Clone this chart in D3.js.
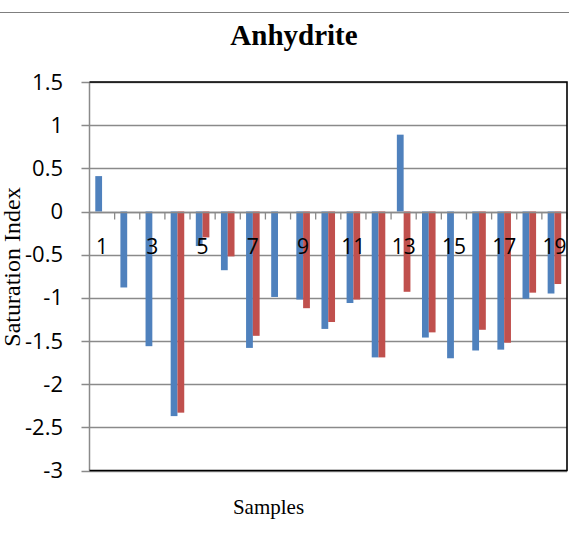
<!DOCTYPE html>
<html>
<head>
<meta charset="utf-8">
<script src="https://cdn.jsdelivr.net/npm/d3@7"></script>
<style>
  body { margin: 0; background: #fff; }
  svg { display: block; }
</style>
</head>
<body>
<div class="chart"></div>
<script>
// chart size matches the window
var width = 569;
var height = 543;

// data
var samples = [1, 2, 3, 4, 5, 6, 7, 8, 9, 10, 11, 12, 13, 14, 15, 16, 17, 18, 19];
var seriesNames = ["s1", "s2"];
var blueValues = [0.41, -0.88, -1.56, -2.37, -0.40, -0.68, -1.58, -0.99, -1.02, -1.36, -1.06, -1.69, 0.89, -1.46, -1.70, -1.61, -1.60, -1.01, -0.95];
var redValues = [null, null, null, -2.33, -0.30, -0.52, -1.44, null, -1.12, -1.28, -1.02, -1.69, -0.93, -1.40, null, -1.37, -1.52, -0.94, -0.84];
var yTicks = [1.5, 1, 0.5, 0, -0.5, -1, -1.5, -2, -2.5, -3];
var xLabels = ["1", "", "3", "", "5", "", "7", "", "9", "", "11", "", "13", "", "15", "", "17", "", "19"];
var colors = { s1: "#4f81bd", s2: "#c0504d" };

var plot = { left: 89.5, right: 567, top: 82, bottom: 470.5 };

var svg = d3.select(".chart").append("svg")
  .attr("width", width)
  .attr("height", height);

// thin grey rule across the top
svg.append("line")
  .attr("x1", 0).attr("x2", width)
  .attr("y1", 12.5).attr("y2", 12.5)
  .attr("stroke", "#7f7f7f").attr("stroke-width", 1);

var x0 = d3.scaleBand()
  .domain(samples)
  .range([plot.left, plot.right])
  .paddingInner(0.46)
  .paddingOuter(0.23);

var x1 = d3.scaleBand()
  .domain(seriesNames)
  .range([0, x0.bandwidth()]);

var y = d3.scaleLinear()
  .domain([-3, 1.5])
  .range([plot.bottom, plot.top]);

// gridlines + outward ticks
svg.append("g").selectAll("line")
  .data(yTicks)
  .enter().append("line")
  .attr("x1", plot.left - 8)
  .attr("x2", plot.right)
  .attr("y1", function(d){ return Math.round(y(d)) + 0.5; })
  .attr("y2", function(d){ return Math.round(y(d)) + 0.5; })
  .attr("stroke", "#8a8a8a")
  .attr("stroke-width", 1.3);

// y axis labels
var yAxis = d3.axisLeft(y)
  .tickValues(yTicks)
  .tickSize(0)
  .tickPadding(plot.left - 63)
  .tickFormat(function(d){ return String(d); });

svg.append("g")
  .attr("transform", "translate(" + plot.left + ",0)")
  .call(yAxis)
  .call(function(g){ g.select(".domain").remove(); })
  .selectAll("text")
  .attr("font-family", "'Open Sans', sans-serif")
  .attr("font-size", 22)
  .attr("fill", "#000");

// bars
var rows = samples.map(function(s, i){
  return { sample: s, s1: blueValues[i], s2: redValues[i] };
});

var groups = svg.append("g").selectAll("g")
  .data(rows)
  .enter().append("g")
  .attr("transform", function(d){ return "translate(" + x0(d.sample) + ",0)"; });

groups.selectAll("rect")
  .data(function(d){
    return seriesNames.map(function(k){ return { key: k, value: d[k] }; })
      .filter(function(e){ return e.value != null; });
  })
  .enter().append("rect")
  .attr("x", function(d){ return x1(d.key); })
  .attr("width", x1.bandwidth())
  .attr("y", function(d){ return Math.min(y(d.value), y(0)); })
  .attr("height", function(d){ return Math.abs(y(d.value) - y(0)); })
  .attr("fill", function(d){ return colors[d.key]; });

// category axis at zero
var zeroY = Math.round(y(0)) + 0.5;
svg.append("line")
  .attr("x1", plot.left).attr("x2", plot.right)
  .attr("y1", zeroY).attr("y2", zeroY)
  .attr("stroke", "#8a8a8a").attr("stroke-width", 1.5);

var step = x0.step();
var boundaries = d3.range(samples.length + 1).map(function(i){ return plot.left + i * step; });
svg.append("g").selectAll("line")
  .data(boundaries)
  .enter().append("line")
  .attr("x1", function(d){ return d; })
  .attr("x2", function(d){ return d; })
  .attr("y1", zeroY)
  .attr("y2", zeroY + 7)
  .attr("stroke", "#8a8a8a").attr("stroke-width", 1.3);

svg.append("g").selectAll("text")
  .data(samples)
  .enter().append("text")
  .attr("x", function(d){ return x0(d) + x0.bandwidth() / 2; })
  .attr("y", 254)
  .attr("text-anchor", "middle")
  .attr("font-family", "'Open Sans', sans-serif")
  .attr("font-size", 21)
  .attr("fill", "#000")
  .text(function(d, i){ return xLabels[i]; });

// y axis line
svg.append("line")
  .attr("x1", plot.left).attr("x2", plot.left)
  .attr("y1", plot.top).attr("y2", plot.bottom)
  .attr("stroke", "#8a8a8a").attr("stroke-width", 1.5);

// black frame on top, right and bottom
svg.append("path")
  .attr("d", "M" + plot.left + "," + plot.top + "H" + plot.right + "V" + plot.bottom + "H" + plot.left)
  .attr("fill", "none")
  .attr("stroke", "#000")
  .attr("stroke-width", 1.6);

// titles
svg.append("text")
  .attr("x", 294).attr("y", 45)
  .attr("text-anchor", "middle")
  .attr("font-family", "'Liberation Serif', 'Times New Roman', serif")
  .attr("font-weight", "bold")
  .attr("font-size", 29)
  .text("Anhydrite");

svg.append("text")
  .attr("x", 268.5).attr("y", 514)
  .attr("text-anchor", "middle")
  .attr("font-family", "'Liberation Serif', 'Times New Roman', serif")
  .attr("font-size", 21)
  .text("Samples");

svg.append("text")
  .attr("transform", "translate(20,267) rotate(-90)")
  .attr("text-anchor", "middle")
  .attr("font-family", "'Liberation Serif', 'Times New Roman', serif")
  .attr("font-size", 24)
  .text("Saturation Index");
</script>
</body>
</html>
